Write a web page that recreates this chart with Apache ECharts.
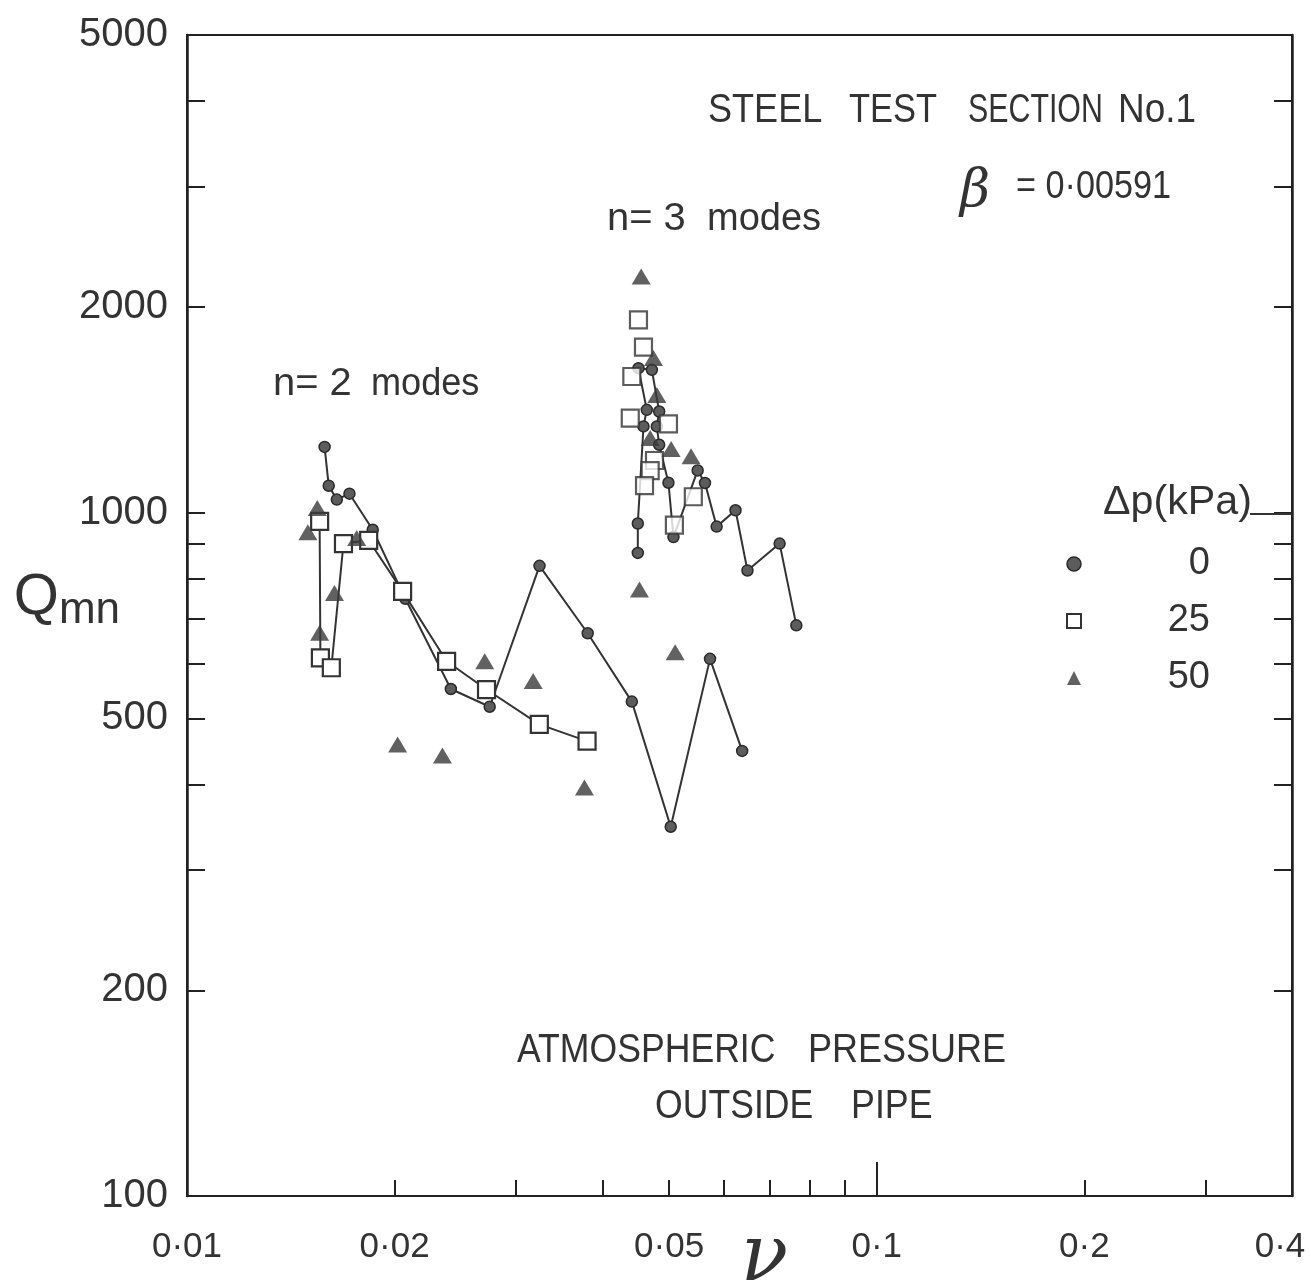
<!DOCTYPE html>
<html><head><meta charset="utf-8">
<script src="https://cdn.jsdelivr.net/npm/echarts@6/dist/echarts.min.js"></script>
<style>html,body{margin:0;padding:0;background:#fff}#c{width:1311px;height:1288px}</style>
</head><body><div id="c"></div>
<script>
// ---- data (nu, Qmn) ----
const circlesN2 = [[0.01583,1248],[0.01605,1095],[0.01649,1045],[0.0172,1066],[0.01859,944],[0.02073,748],[0.02413,552],[0.02747,520],[0.03244,836],[0.0381,666],[0.04415,529],[0.05027,347],[0.05732,611],[0.06381,448]];
const circlesN3 = [[0.04504,873],[0.04504,964],[0.0459,1337],[0.04641,1414],[0.04514,1627],[0.0472,1618],[0.04837,1406],[0.04799,1337],[0.04837,1257],[0.04989,1106],[0.05073,921],[0.055,1153],[0.05636,1105],[0.0586,954],[0.06241,1008],[0.06495,823],[0.07231,901],[0.07646,684]];
const squaresN2 = [[0.01557,971],[0.01561,613],[0.01619,593],[0.01686,901],[0.01834,911],[0.02054,767],[0.02379,606],[0.02718,551],[0.03242,490],[0.03802,463]];
const squaresN3 = [[0.04514,1915],[0.0459,1747],[0.04415,1582],[0.04392,1375],[0.04989,1349],[0.04762,1192],[0.04694,1152],[0.04606,1095],[0.05089,959],[0.05421,1055]];
const triangles = [[0.01497,936],[0.01545,1016],[0.01636,763],[0.01557,667],[0.01762,918],[0.0202,458],[0.02346,441],[0.02702,606],[0.03176,567],[0.03769,396],[0.04555,2216],[0.04746,1684],[0.04799,1487],[0.04694,1286],[0.05034,1239],[0.0538,1209],[0.04529,772],[0.05102,625]];
const xLabelValues = [0.01,0.02,0.05,0.1,0.2,0.4];
const xTickValues = [0.02,0.03,0.04,0.05,0.06,0.07,0.08,0.09,0.2,0.3];
const xLongTick = [0.1];
const yLabelValues = [100,200,500,1000,2000,5000];
const yTickValues = [200,300,400,500,600,700,800,900,1000,2000,3000,4000];
const legendNames = ['0','25','50'];

const FONT = 'Liberation Sans';
const INK = '#333';
const chart = echarts.init(document.getElementById('c'), null, {renderer:'canvas'});

const circleStyle = {color:'#5c5c5c', borderColor:'#2a2a2a', borderWidth:1.5};
const squareStyle = {color:'#ffffff', borderColor:'#333', borderWidth:2.2};
const triStyle = {color:'#3a3a3a'};
const lineStyle = {color:'#333', width:2};

function txt(text, x, y, size, sx, style) {
  return {type:'text', x:x, y:y, z:10, scaleX:sx,
    style:Object.assign({text:text, fontFamily:FONT, fontSize:size, fill:INK, align:'left', verticalAlign:'middle'}, style||{})};
}
function xFmt(v) {
  const s = String(Math.round(v*100)/100).replace('.','·');
  return v > 0.39 ? '{r|' + s + '}' : s;
}

chart.setOption({
  animation:false,
  backgroundColor:'#fff',
  grid:{left:187, right:19, top:35, bottom:92, containLabel:false, outerBoundsMode:'none',
    show:true, borderColor:'#222', borderWidth:2},
  xAxis:[{
    type:'log', logBase:10, min:0.01, max:0.4, position:'bottom',
    axisLine:{show:true, lineStyle:{color:'#222', width:2}},
    axisTick:{show:true, inside:true, length:16, customValues:xTickValues, lineStyle:{color:'#222', width:2}},
    axisLabel:{customValues:xLabelValues, margin:34, fontFamily:FONT, fontSize:35, color:INK,
      showMinLabel:true, showMaxLabel:true, hideOverlap:false, formatter:xFmt,
      rich:{r:{fontFamily:FONT, fontSize:35, color:INK, padding:[0,24,0,0]}}},
    splitLine:{show:false}, minorTick:{show:false},
    name:'ν', nameLocation:'middle', nameGap:25, nameMoveOverlap:false,
    nameTextStyle:{fontFamily:'DejaVu Serif', fontStyle:'italic', fontSize:78, color:INK, padding:[0,0,0,50]}
  },{
    type:'log', logBase:10, min:0.01, max:0.4, position:'bottom',
    axisLine:{show:false},
    axisTick:{show:true, inside:true, length:34, customValues:xLongTick, lineStyle:{color:'#222', width:2}},
    axisLabel:{show:false}, splitLine:{show:false}
  }],
  yAxis:[{
    type:'log', logBase:10, min:100, max:5000, position:'left',
    axisLine:{show:true, lineStyle:{color:'#222', width:2.5}},
    axisTick:{show:true, inside:true, length:18, customValues:yTickValues, lineStyle:{color:'#222', width:2}},
    axisLabel:{customValues:yLabelValues, margin:19, fontFamily:FONT, fontSize:40, color:INK,
      showMinLabel:true, showMaxLabel:true, hideOverlap:false, formatter:v=>String(Math.round(v))},
    splitLine:{show:false}, minorTick:{show:false},
    name:'{q|Q}{s|mn}', nameLocation:'middle', nameRotate:0, nameGap:67, nameMoveOverlap:false,
    nameTextStyle:{align:'right', padding:[0,0,44,0], rich:{
      q:{fontFamily:FONT, fontSize:58, color:INK, verticalAlign:'bottom', lineHeight:66},
      s:{fontFamily:FONT, fontSize:44, color:INK, verticalAlign:'bottom', lineHeight:50, padding:[0,0,-6,0]}}}
  },{
    type:'log', logBase:10, min:100, max:5000, position:'right',
    axisLine:{show:true, lineStyle:{color:'#222', width:2.5}},
    axisTick:{show:true, inside:true, length:18, customValues:yTickValues, lineStyle:{color:'#222', width:2}},
    axisLabel:{show:false}, splitLine:{show:false}
  }],
  legend:{
    orient:'vertical', left:1061, top:540, itemWidth:14, itemHeight:14, itemGap:19,
    selectedMode:false,
    formatter:n=>'{t|'+n+'}',
    textStyle:{rich:{t:{width:124, align:'right', fontFamily:FONT, fontSize:38, color:INK, lineHeight:40}}},
    data:[
      {name:legendNames[0], icon:'circle', itemStyle:{color:'#5c5c5c', borderColor:'#2a2a2a', borderWidth:1.5}},
      {name:legendNames[1], icon:'rect', itemStyle:{color:'#fff', borderColor:'#333', borderWidth:2}},
      {name:legendNames[2], icon:'triangle', itemStyle:{color:'#3a3a3a', borderWidth:0}}
    ]
  },
  series:[
    {name:legendNames[0], type:'line', data:circlesN2, symbol:'circle', symbolSize:11, showSymbol:true,
      itemStyle:circleStyle, lineStyle:lineStyle, z:3},
    {name:legendNames[0], type:'line', data:circlesN3, symbol:'circle', symbolSize:11, showSymbol:true,
      itemStyle:circleStyle, lineStyle:lineStyle, z:3},
    {name:legendNames[1], type:'line', data:squaresN2, symbol:'rect', symbolSize:17, showSymbol:true,
      itemStyle:squareStyle, lineStyle:lineStyle, z:4},
    {name:legendNames[1], type:'scatter', data:squaresN3, symbol:'rect', symbolSize:17,
      itemStyle:squareStyle, z:4},
    {name:legendNames[2], type:'scatter', data:triangles, symbol:'triangle', symbolSize:[19,16],
      itemStyle:triStyle, z:5}
  ],
  graphic:[
    txt('STEEL', 708, 111, 41, 0.88),
    txt('TEST', 849, 111, 41, 0.84),
    txt('SECTION', 968, 111, 41, 0.74),
    txt('No.1', 1118, 111, 41, 0.9),
    txt('β', 960, 192, 52, 1, {fontStyle:'italic', fontFamily:'DejaVu Serif'}),
    txt('= 0·00591', 1016, 188, 38, 0.9),
    txt('n= 3', 607, 220, 38, 1.05),
    txt('modes', 707, 220, 38, 1.0),
    txt('n= 2', 273, 385, 38, 1.05),
    txt('modes', 371, 385, 38, 0.95),
    txt('Δp(kPa)', 1103, 503, 40, 1.03),
    {type:'line', z:10, shape:{x1:1250, y1:514, x2:1292, y2:514}, style:{stroke:'#333', lineWidth:2}},
    txt('ATMOSPHERIC', 517, 1051, 40, 0.89),
    txt('PRESSURE', 808, 1051, 40, 0.9),
    txt('OUTSIDE', 655, 1107, 40, 0.89),
    txt('PIPE', 851, 1107, 40, 0.895)
  ]
});
</script></body></html>
